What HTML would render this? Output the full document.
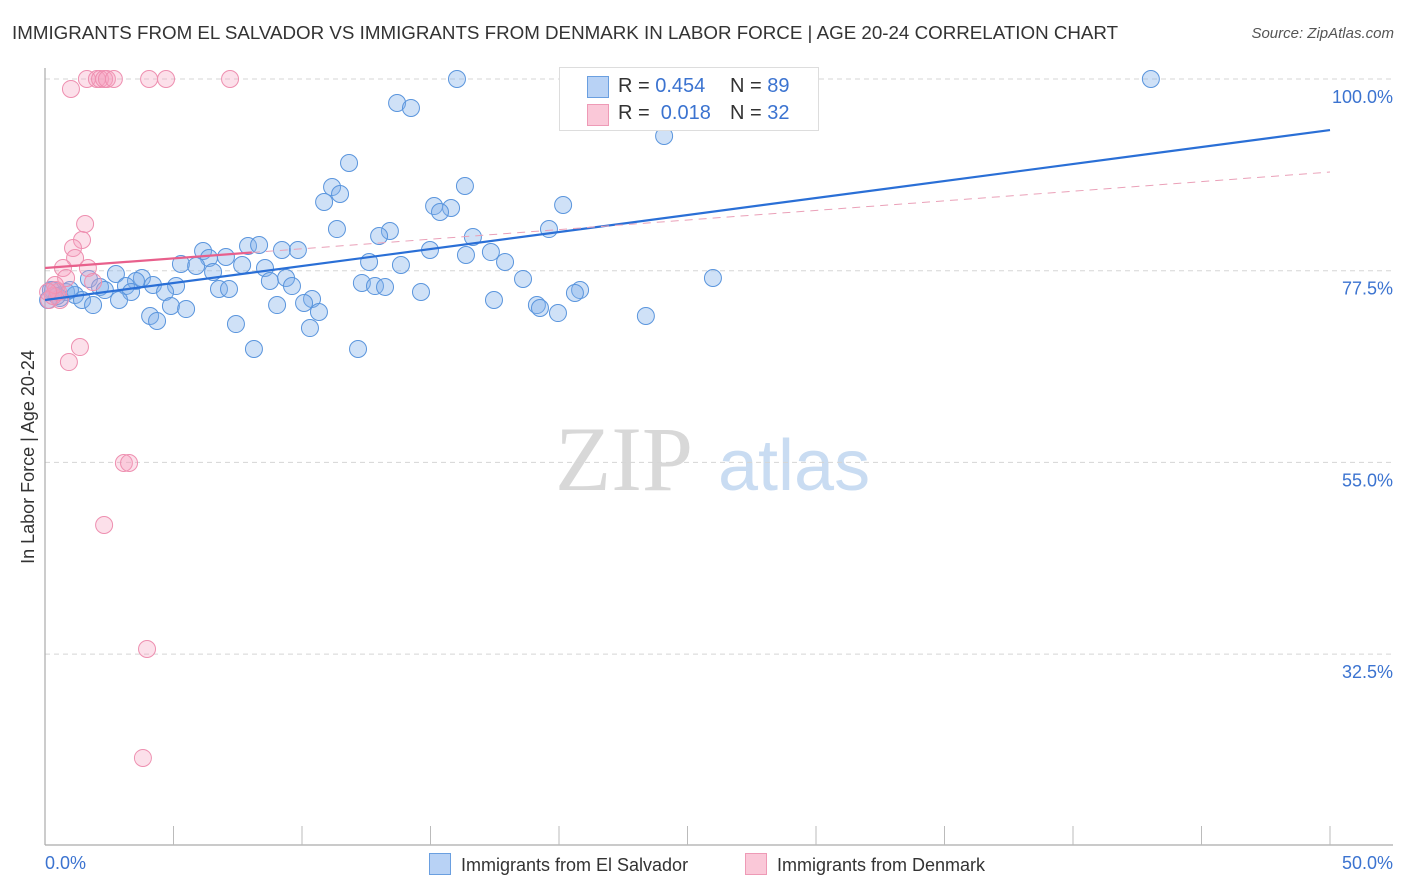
<!DOCTYPE html>
<html><head><meta charset="utf-8"><style>
body{margin:0;background:#fff;font-family:"Liberation Sans",sans-serif;}
#wrap{position:relative;width:1406px;height:892px;overflow:hidden;}
.t{position:absolute;white-space:nowrap;}
</style></head><body>
<div id="wrap">
<div class="t" style="left:12px;top:22px;font-size:18.75px;color:#333;">IMMIGRANTS FROM EL SALVADOR VS IMMIGRANTS FROM DENMARK IN LABOR FORCE | AGE 20-24 CORRELATION CHART</div>
<div class="t" style="right:12px;top:25px;font-size:15px;color:#555;font-style:italic;">Source: ZipAtlas.com</div>
<svg id="svg" width="1406" height="892" style="position:absolute;left:0;top:0"></svg>
</div>
<script>
const yTicks=[100,77.5,55,32.5];
const yTickLabels=["100.0%","77.5%","55.0%","32.5%"];
const xTickLabels=["0.0%","50.0%"];
const blueX=[16.03,43.03,13.70,14.24,24.09,11.83,11.17,16.34,11.48,10.86,15.14,20.16,15.80,15.37,11.36,19.61,13.42,13.00,16.65,14.98,6.15,7.90,8.33,9.22,9.84,16.38,17.35,6.38,7.04,5.29,5.88,7.67,8.56,12.61,13.85,17.90,6.54,2.76,1.71,3.77,3.54,8.75,9.38,18.60,25.99,4.20,5.10,9.61,12.33,12.84,13.23,6.77,7.16,2.14,3.15,3.35,0.82,1.17,4.67,0.31,20.82,14.63,20.62,0.58,1.44,2.88,10.39,10.08,17.47,19.14,19.26,1.87,4.90,5.49,9.03,4.09,4.36,10.66,19.96,23.38,7.43,10.31,8.13,12.18,0.23,0.47,0.12,0.97,2.33];
const blueY=[100,100,97.18,96.6,93.31,90.14,87.32,87.44,86.5,85.56,85.09,85.21,84.86,84.39,82.39,82.39,82.16,81.57,81.46,79.93,79.81,80.4,80.52,79.93,79.93,79.34,79.69,78.99,79.11,78.29,78.05,78.17,77.82,78.52,78.17,78.52,77.35,77.11,76.53,76.64,76.29,76.29,76.64,76.53,76.64,75.82,75.7,75.7,76.06,75.7,75.59,75.35,75.35,75.59,75.7,75.0,75.0,74.65,75.0,75.23,75.23,75.0,74.88,74.3,74.06,74.06,74.18,73.71,74.06,73.47,73.12,73.47,73.36,73.0,73.47,72.18,71.6,72.65,72.53,72.18,71.24,70.77,68.31,68.31,75.23,74.53,74.06,75.23,75.23];
const pinkX=[1.01,1.63,2.02,2.14,2.30,2.41,2.68,4.05,4.71,7.20,1.56,1.44,1.09,1.17,0.70,1.67,0.82,1.87,0.43,0.58,0.16,0.31,0.51,1.36,0.93,3.07,3.27,2.30,3.97,3.81,0.39,0.12];
const pinkY=[98.83,100,100,100,100,100,100,100,100,100,82.98,81.1,80.16,78.99,77.82,77.82,76.64,76.17,75.23,74.06,74.06,74.53,75.0,68.54,66.78,54.93,54.93,47.65,33.1,20.31,75.82,75.0];
const blueTrend=[74.06,94.01];
const pinkTrend=[77.82,89.08];
const X0=45,X1=1330,Y100=79,PXPER=191.7/22.5;
function sx(v){return X0+(X1-X0)*v/50;}
function sy(v){return Y100+(100-v)*PXPER;}
const svg=document.getElementById('svg');const NS='http://www.w3.org/2000/svg';
function mk(tag,attrs,parent){const e=document.createElementNS(NS,tag);for(const k in attrs)e.setAttribute(k,attrs[k]);(parent||svg).appendChild(e);return e;}
let w=mk('text',{x:555,y:490,'font-size':92,'font-family':'Liberation Serif,serif',fill:'#d8d8d8'});w.textContent='ZIP';


let w2=mk('text',{x:718,y:490,'font-size':72,'font-family':'Liberation Sans,sans-serif',fill:'#c9dcf2'});w2.textContent='atlas';


yTicks.forEach((v,i)=>{
 const g=mk('line',{x1:X0,x2:1393,y1:sy(v),y2:sy(v),stroke:'#d5d5d5','stroke-dasharray':'5,4','stroke-width':1});
 
 
 const t=mk('text',{x:1393,y:sy(v)+24,'text-anchor':'end','font-size':18,fill:'#3b73d0'});t.textContent=yTickLabels[i];
 
 
});
let ax=mk('line',{x1:X0,x2:X0,y1:68,y2:845,stroke:'#aaa','stroke-width':1.2});


let ax2=mk('line',{x1:X0,x2:1393,y1:845,y2:845,stroke:'#aaa','stroke-width':1.2});


for(let i=1;i<=10;i++){const tk=mk('line',{x1:sx(i*5),x2:sx(i*5),y1:826,y2:845,stroke:'#bbb'});
 
 }
[[0,'start',45],[50,'end',1393]].forEach((a,i)=>{const t=mk('text',{x:a[2],y:869,'text-anchor':a[1],'font-size':18,fill:'#3b73d0'});t.textContent=xTickLabels[i];
 
 });
let yt=mk('text',{x:34,y:457,'text-anchor':'middle','font-size':18,fill:'#333',transform:'rotate(-90 34 457)'});yt.textContent='In Labor Force | Age 20-24';


blueX.forEach((x,i)=>{const c=mk('circle',{cx:sx(x),cy:sy(blueY[i]),r:8.5,fill:'rgba(130,175,235,0.38)',stroke:'#5a95dd','stroke-width':1});
 
 });
pinkX.forEach((x,i)=>{const c=mk('circle',{cx:sx(x),cy:sy(pinkY[i]),r:8.5,fill:'rgba(245,160,190,0.32)',stroke:'#ee8fb0','stroke-width':1});
 
 });
let bt=mk('line',{x1:sx(0),y1:sy(blueTrend[0]),x2:sx(50),y2:sy(blueTrend[1]),stroke:'#2a6fd6','stroke-width':2.2});


const pm=8.05,pyAt=v=>pinkTrend[0]+(pinkTrend[1]-pinkTrend[0])*v/50;
let pt=mk('line',{x1:sx(0),y1:sy(pinkTrend[0]),x2:sx(pm),y2:sy(pyAt(pm)),stroke:'#e8608c','stroke-width':2.2});


let pd=mk('line',{x1:sx(pm),y1:sy(pyAt(pm)),x2:sx(50),y2:sy(pinkTrend[1]),stroke:'#eaa0b8','stroke-width':1,'stroke-dasharray':'8,6'});


</script>
<div class="t" style="left:559px;top:67px;width:258px;height:62px;border:1px solid #ddd;background:#fff;font-size:20px;color:#333;">
 <div style="position:absolute;left:27px;top:8px;width:20px;height:20px;background:#b8d2f5;border:1px solid #6a9fe0;"></div>
 <div style="position:absolute;left:58px;top:7px;">R = <span style="color:#3b73d0">0.454</span></div>
 <div style="position:absolute;left:170px;top:7px;">N = <span style="color:#3b73d0">89</span></div>
 <div style="position:absolute;left:27px;top:36px;width:20px;height:20px;background:#fac8d8;border:1px solid #ee9ab6;"></div>
 <div style="position:absolute;left:58px;top:34px;">R = &nbsp;<span style="color:#3b73d0">0.018</span></div>
 <div style="position:absolute;left:170px;top:34px;">N = <span style="color:#3b73d0">32</span></div>
</div>
<div class="t" style="left:429px;top:853px;font-size:18px;color:#333;"><span style="display:inline-block;width:20px;height:20px;background:#b8d2f5;border:1px solid #6a9fe0;vertical-align:-4px;margin-right:10px;"></span>Immigrants from El Salvador</div>
<div class="t" style="left:745px;top:853px;font-size:18px;color:#333;"><span style="display:inline-block;width:20px;height:20px;background:#fac8d8;border:1px solid #ee9ab6;vertical-align:-4px;margin-right:10px;"></span>Immigrants from Denmark</div>
</body></html>
